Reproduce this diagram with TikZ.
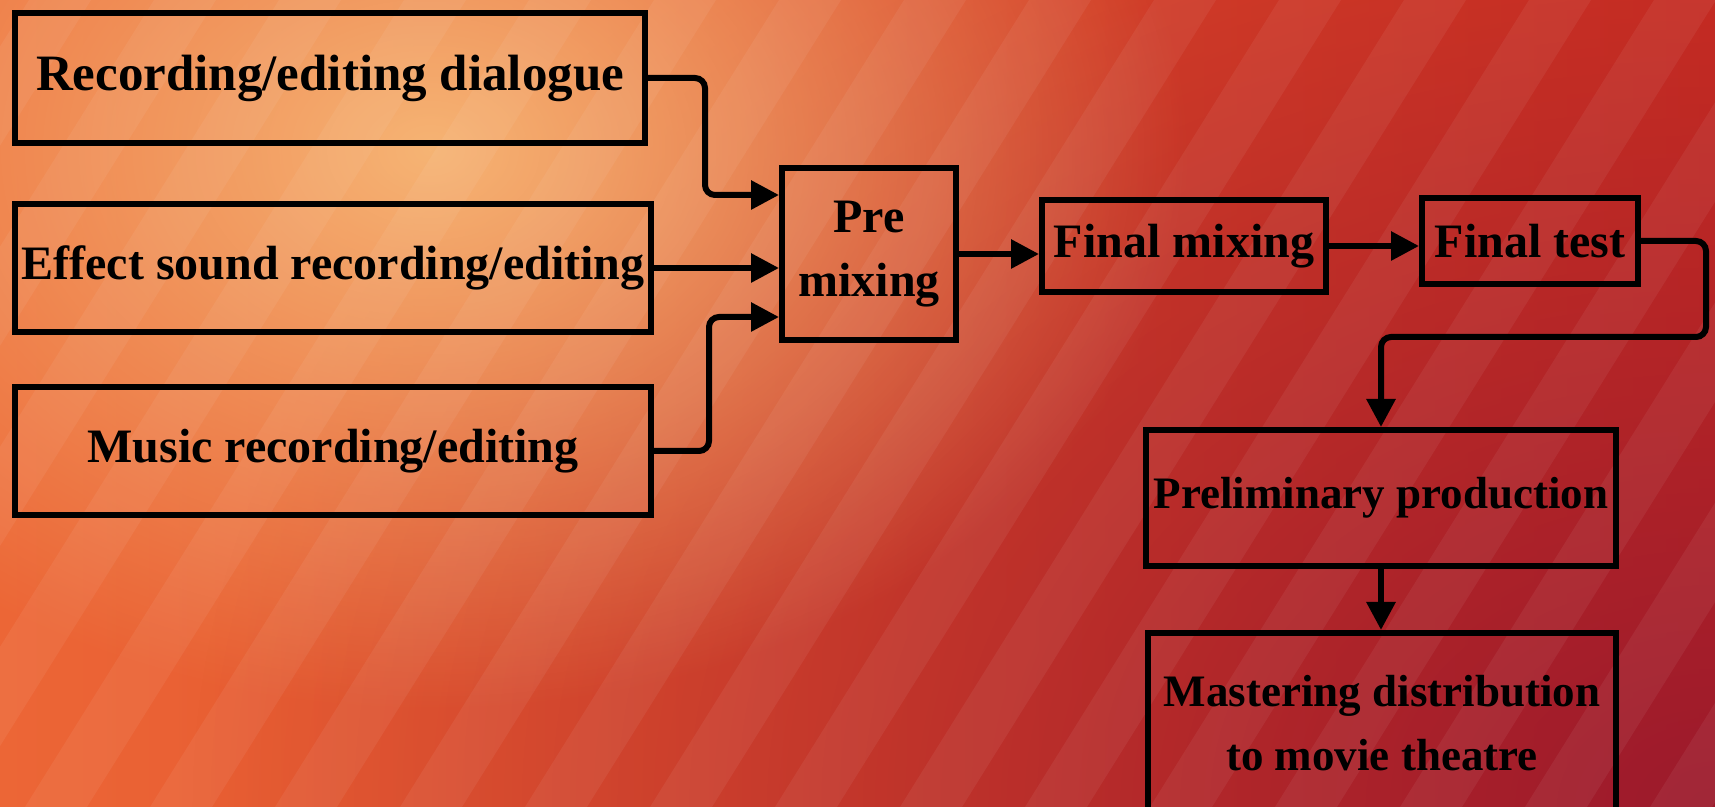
\documentclass[tikz,border=0pt]{standalone}
\usepackage{fontspec}
\setmainfont{Liberation Serif}
\usetikzlibrary{arrows.meta,calc,fadings}
\definecolor{peach}{HTML}{F6B474}
\definecolor{warm}{HTML}{EC6636}
\definecolor{hot}{HTML}{D4321F}
\definecolor{deep}{HTML}{9C1A2C}
\tikzfading[name=glow,inner color=transparent!0,outer color=transparent!100]

\begin{document}
\begin{tikzpicture}[x=0.5pt,y=-0.5pt,>={Triangle[length=14pt,width=14pt]},box/.style={draw=black,line width=3pt,inner sep=0pt,align=center,font=\bfseries\fontsize{24}{32}\selectfont},small/.style={font=\bfseries\fontsize{22.5}{32}\selectfont},link/.style={->,line width=3pt,rounded corners=5pt}]
\useasboundingbox (0,0) rectangle (1715,807);
\shade[left color=warm,right color=hot] (0,0) rectangle (1715,807);
\fill[deep,path fading=glow] (1715,807) ellipse [x radius=760pt,y radius=560pt];
\fill[peach,path fading=glow] (430,150) ellipse [x radius=380pt,y radius=280pt];
\foreach \s in {-600,-475,...,1715}
  \fill[white,opacity=.06] (\s,807) -- ++(504,-807) -- ++(62,0) -- ++(-504,807) -- cycle;
\node[box,minimum width=315pt,minimum height=65pt,font=\bfseries\fontsize{25.5}{32}\selectfont] (dlg) at (330,78) {Recording/editing dialogue};
\node[box,minimum width=318pt,minimum height=64pt] (sfx) at (333,268) {Effect sound recording/editing};
\node[box,minimum width=318pt,minimum height=64pt] (mus) at (333,451) {Music recording/editing};
\node[box,minimum width=87pt,minimum height=86pt] (pre) at (869,254) {Pre\\mixing};
\node[box,minimum width=142pt,minimum height=46pt] (fmix) at (1184,246) {Final mixing};
\node[box,minimum width=108pt,minimum height=43pt] (ftest) at (1530,241) {Final test};
\node[box,small,minimum width=235pt,minimum height=68pt] (prelim) at (1381,498) {Preliminary production};
\node[box,small,minimum width=234pt,minimum height=90pt] (master) at (1382,723) {Mastering distribution\\to movie theatre};
\draw[link] (dlg.east) -- ++(57,0) |- ($(pre.west)+(0,-59)$);
\draw[link] (sfx.east) -- (sfx.east-|pre.west);
\draw[link] (mus.east) -- ++(55,0) |- ($(pre.west)+(0,63)$);
\draw[link] (pre) -- (pre-|fmix.west);
\draw[link] (fmix) -- (fmix-|ftest.west);
\draw[link] (ftest.east) -- ++(65,0) -- ++(0,96) -| (prelim.north);
\draw[link] (prelim.south) -- (prelim.south|-master.north);
\end{tikzpicture}
\end{document}
